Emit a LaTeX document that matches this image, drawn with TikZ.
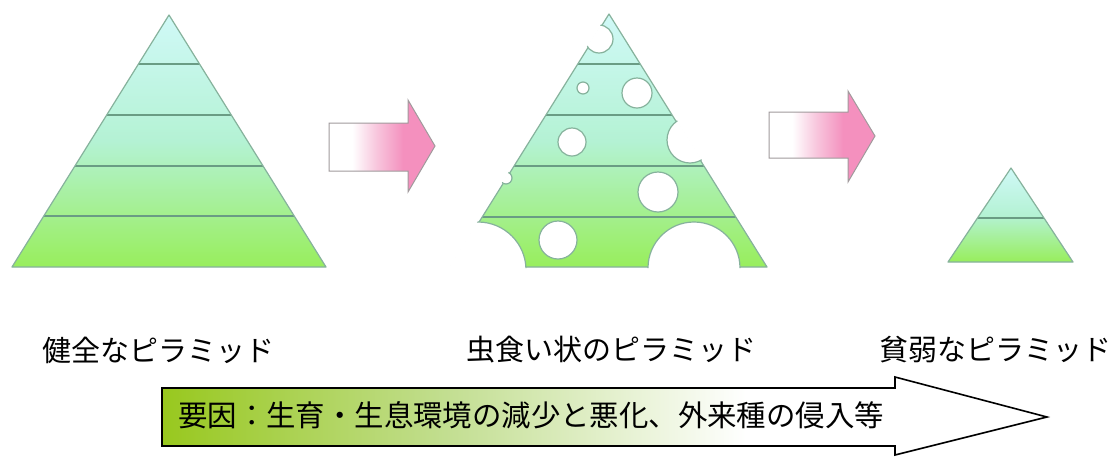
\documentclass[tikz,border=0pt]{standalone}
\usepackage{fontspec}
\newfontfamily\jp{Noto Sans CJK JP}
\definecolor{ptop}{HTML}{D0F9F7}
\definecolor{pmid}{HTML}{B4F2D4}
\definecolor{pbot}{HTML}{98EE5C}
\definecolor{lline}{HTML}{6A9C84}
\definecolor{pline}{HTML}{86B29C}
\definecolor{apink}{HTML}{F490BE}
\definecolor{apinkl}{HTML}{F8C8DE}
\definecolor{agray}{HTML}{A09A9C}
\definecolor{fgreen}{HTML}{98C81E}
\definecolor{fgreenm}{HTML}{C2DE90}
\pgfdeclarehorizontalshading{pinkfade}{100bp}{color(0bp)=(white); color(25bp)=(white); color(36bp)=(white); color(47bp)=(apinkl); color(60bp)=(apink); color(100bp)=(apink)}
\pgfdeclarehorizontalshading{grnfade}{100bp}{color(0bp)=(fgreen); color(25bp)=(fgreen); color(41bp)=(fgreenm); color(58bp)=(white); color(100bp)=(white)}
\begin{document}
\begin{tikzpicture}[x=1pt,y=-1pt,
  pyrfill/.style={top color=ptop, bottom color=pbot, middle color=pmid, draw=none},
  layerline/.style={draw=lline, line width=1.2pt},
  pyroutline/.style={draw=pline, line width=1.2pt, line join=round},
  hole/.style={fill=white, draw=pline, line width=1.2pt},
  pinkarrow/.style={shading=pinkfade, draw=agray, line width=1pt, line join=miter},
  bigarrow/.style={shading=grnfade, draw=black, line width=1.6pt, line join=miter},
  lbl/.style={font=\jp\fontsize{29}{29}\selectfont, inner sep=0pt, text=black},
  causelbl/.style={font=\jp\fontsize{29.4}{29.4}\selectfont, inner sep=0pt, text=black}]
\useasboundingbox[fill=white] (0,0) rectangle (1120,456);

% ---- pyramid 1 (healthy)
\path[pyrfill] (169,15) -- (12,267) -- (326,267) -- cycle;
\begin{scope}
  \clip (169,15) -- (12,267) -- (326,267) -- cycle;
  \foreach \y in {64,115,166,216} \draw[layerline] (0,\y) -- (340,\y);
\end{scope}
\draw[pyroutline] (169,15) -- (12,267) -- (326,267) -- cycle;

% ---- arrow 1
\draw[pinkarrow] (329,123) -- (408,123) -- (408,100) -- (435,146) -- (408,192) -- (408,171) -- (329,171) -- cycle;

% ---- pyramid 2 (moth-eaten)
\path[pyrfill] (609,14) -- (451,267) -- (767,267) -- cycle;
\begin{scope}
  \clip (609,14) -- (451,267) -- (767,267) -- cycle;
  \foreach \y in {64,115,166,217} \draw[layerline] (440,\y) -- (780,\y);
\end{scope}
\draw[pyroutline] (609,14) -- (451,267) -- (767,267) -- cycle;
\begin{scope}
  \clip (609,11.5) -- (448.5,268.2) -- (769.5,268.2) -- cycle;
  \foreach \cx/\cy/\r in {599/39/14, 583/88/6, 637/93/15, 572/142/14, 690/140/23,
                          506/178/6, 658/192/20, 558/240/19, 478/270/48, 694/268/46}
    \draw[hole] (\cx,\cy) circle[radius=\r pt];
\end{scope}

% ---- arrow 2
\draw[pinkarrow] (769,112) -- (848,112) -- (848,91) -- (875,136) -- (848,182) -- (848,158) -- (769,158) -- cycle;

% ---- pyramid 3 (poor)
\path[pyrfill] (1011,168) -- (948,262) -- (1073,262) -- cycle;
\begin{scope}
  \clip (1011,168) -- (948,262) -- (1073,262) -- cycle;
  \draw[layerline] (940,218) -- (1080,218);
\end{scope}
\draw[pyroutline] (1011,168) -- (948,262) -- (1073,262) -- cycle;

% ---- labels
\node[lbl] (l1) at (158,350) {健全なピラミッド};
\node[lbl] (l2) at (611,350) {虫食い状のピラミッド};
\node[lbl] (l3) at (995,350) {貧弱なピラミッド};

% ---- cause arrow
\draw[bigarrow] (162,388) -- (895,388) -- (895,377) -- (1047,417) -- (895,455) -- (895,446) -- (162,446) -- cycle;
\node[causelbl, anchor=west] (cause) at (178,415) {要因：生育・生息環境の減少と悪化、外来種の侵入等};
\end{tikzpicture}
\end{document}
